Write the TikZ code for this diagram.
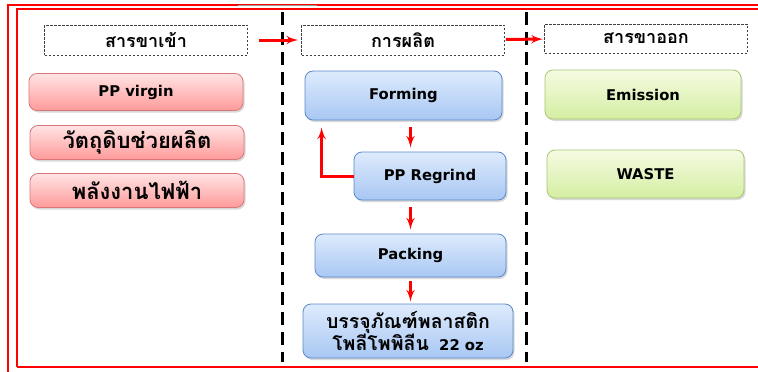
\documentclass[tikz,border=0pt]{standalone}
\usepackage{fontspec}
\setmainfont{DejaVu Sans}
\newfontfamily\thaifont[Script=Thai]{Loma}
\usetikzlibrary{shapes,arrows,shadows}

\definecolor{inTop}{HTML}{FFE4E4}
\definecolor{inBot}{HTML}{FF9A9A}
\definecolor{inLine}{HTML}{D9787A}
\definecolor{prTop}{HTML}{DEEBFD}
\definecolor{prBot}{HTML}{A8C7F3}
\definecolor{prLine}{HTML}{5A88C8}
\definecolor{outTop}{HTML}{F5FBE2}
\definecolor{outBot}{HTML}{D4EEA2}
\definecolor{outLine}{HTML}{A8C670}

% Thai words are set larger than the Latin ones
\newcommand{\thai}[2][22]{{\thaifont\fontsize{#1}{#1}\selectfont #2}}

\tikzstyle{block} = [rectangle, draw, rounded corners=8pt, line width=0.8pt,
    drop shadow={shadow xshift=1.5pt, shadow yshift=-2pt, opacity=0.3},
    font=\bfseries\fontsize{14.8}{20}\selectfont, align=center, inner sep=0pt]
\tikzstyle{inblock} = [block, draw=inLine, top color=inTop, bottom color=inBot]
\tikzstyle{prblock} = [block, draw=prLine, top color=prTop, bottom color=prBot]
\tikzstyle{outblock} = [block, draw=outLine, top color=outTop, bottom color=outBot]
\tikzstyle{head} = [rectangle, draw=black!75, dash pattern=on 2.5pt off 1.5pt, line width=0.8pt,
    minimum width=203pt, minimum height=30pt, inner sep=0pt,
    font=\thaifont\bfseries\fontsize{18}{20}\selectfont]
\tikzstyle{line} = [draw, red, line width=3pt, -latex']
\tikzstyle{sep} = [draw, black, line width=3pt, dash pattern=on 13pt off 7pt]

\begin{document}
\begin{tikzpicture}[x=1pt, y=-1pt]

		\useasboundingbox (0,0) rectangle (758,372);
		\clip (0,0) rectangle (758,372);

		% frame
		\draw [red, line width=1.2pt] (8,400) -- (8,5) -- (800,5);
		\draw [black!40, line width=1pt] (238,5.5) -- (317,5.5);
		\draw [red, line width=1.6pt] (17,367) -- (17,9) -- (800,9);
		\draw [red, line width=2.2pt] (17,367) -- (800,367);

		% column separators
		\path [sep] (282,12) -- (282,362);
		\path [sep] (526,12) -- (526,362);

		\node [head] (in) at (146,40) {สารขาเข้า};
		\node [head] (proc) at (403,40) {การผลิต};
		\node [head, minimum height=29pt] (out) at (646,38.5) {สารขาออก};

		\node [inblock, minimum width=214pt, minimum height=37pt] (virgin) at (136,92) {PP virgin};
		\node [inblock, minimum width=214pt, minimum height=34pt] (aux) at (137,142.5) {\thai{วัตถุดิบช่วยผลิต}};
		\node [inblock, minimum width=214pt, minimum height=34pt] (power) at (137,190.5) {\thai{พลังงานไฟฟ้า}};

		\node [prblock, minimum width=197pt, minimum height=49pt] (forming) at (403.5,95.5) {Forming};
		\node [prblock, minimum width=152pt, minimum height=48pt] (regrind) at (430,176) {PP Regrind};
		\node [prblock, minimum width=191pt, minimum height=43pt] (packing) at (410.5,255.5) {Packing};
		\node [prblock, minimum width=210pt, minimum height=54pt] (product) at (408,331)
			{\thai[19.5]{บรรจุภัณฑ์พลาสติก}\\[-1pt]\thai[19.5]{โพลีโพพิลีน}\ \ 22 oz};

		\node [outblock, minimum width=196pt, minimum height=49pt] (emission) at (643,94.5) {Emission};
		\node [outblock, minimum width=197pt, minimum height=48pt] (waste) at (645.5,174) {WASTE};

		\path [line, shorten <=11pt, shorten >=3pt] (in) -- (proc);
		\path [line, shorten <=1pt, shorten >=1pt] (proc) -- (out);

		\path [line, shorten <=7pt, shorten >=4pt] (forming.south -| packing.north) -- (regrind.north -| packing.north);
		\path [line, shorten >=7pt] (regrind.west) -| ([xshift=17pt]forming.south west);
		\path [line, shorten <=7pt, shorten >=4pt] (regrind.south -| packing.north) -- (packing.north);
		\path [line, shorten <=4pt, shorten >=2pt] (packing.south) -- (packing.south |- product.north);

\end{tikzpicture}
\end{document}
